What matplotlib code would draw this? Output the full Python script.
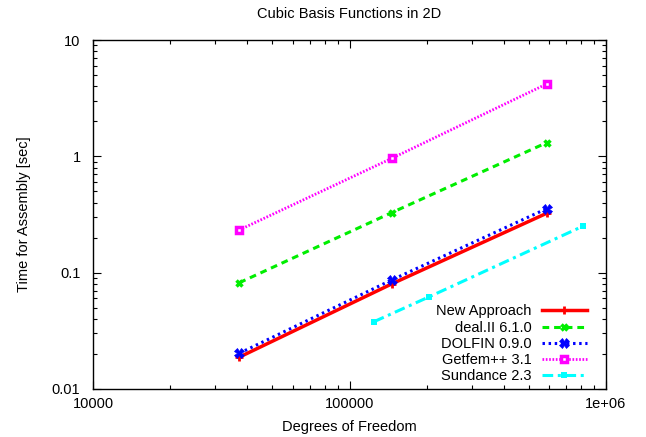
import matplotlib
matplotlib.use("Agg")
import matplotlib.pyplot as plt
from matplotlib.ticker import LogLocator, NullFormatter, FixedLocator, FixedFormatter

plt.rcParams['font.family'] = ['Liberation Sans', 'DejaVu Sans']

# data (degrees of freedom vs assembly time)
dofs = [37200, 146000, 587000]
new_approach = [0.0188, 0.080, 0.324]
dealii = [0.082, 0.328, 1.31]
dolfin = [0.0203, 0.0865, 0.355]
getfem = [0.233, 0.96, 4.19]
sundance_dofs = [124600, 204700, 816000]
sundance = [0.0379, 0.0621, 0.252]

labels = ["New Approach", "deal.II 6.1.0", "DOLFIN 0.9.0", "Getfem++ 3.1", "Sundance 2.3"]

fig = plt.figure(figsize=(6.46, 4.37), dpi=100)
ax = fig.add_axes([93 / 646, 1 - 389 / 437, (606 - 93) / 646, (389 - 40) / 437])

ax.plot(dofs, new_approach, color='#ff0000', lw=2.5, marker='+', ms=6, mew=2,
        label=labels[0])
ax.plot(dofs, dealii, color='#00ee00', lw=2.2, ls=(0, (2.2, 1.6)), marker='x',
        ms=5, mew=2.5, label=labels[1])
ax.plot(dofs, dolfin, color='#0000ff', lw=2.2, ls=(0, (0.8, 1.2)), marker='X',
        ms=6.5, mew=0.5, label=labels[2])
ax.plot(dofs, getfem, color='#ff00ff', lw=2.0, ls=(0, (0.6, 0.6)), marker='s',
        ms=3.8, mfc='white', mew=2.5, label=labels[3])
ax.plot(sundance_dofs, sundance, color='#00ffff', lw=2.2,
        ls=(0, (3.5, 1.5, 1, 1.5)), marker='s', ms=4.8, mew=0, label=labels[4])

ax.set_xscale('log')
ax.set_yscale('log')
ax.set_xlim(1e4, 1e6)
ax.set_ylim(0.01, 10)

ax.xaxis.set_major_locator(FixedLocator([1e4, 1e5, 1e6]))
ax.xaxis.set_major_formatter(FixedFormatter(["10000", "100000", "1e+06"]))
ax.yaxis.set_major_locator(FixedLocator([0.01, 0.1, 1, 10]))
ax.yaxis.set_major_formatter(FixedFormatter(["0.01", "0.1", "1", "10"]))
ax.xaxis.set_minor_locator(LogLocator(base=10, subs=range(2, 10)))
ax.yaxis.set_minor_locator(LogLocator(base=10, subs=range(2, 10)))
ax.xaxis.set_minor_formatter(NullFormatter())
ax.yaxis.set_minor_formatter(NullFormatter())
ax.tick_params(which='both', direction='in', top=True, right=True,
               labelsize=10.5, width=0.8, pad=6)
ax.tick_params(axis='y', which='major', pad=9)
ax.tick_params(which='major', length=6)
ax.tick_params(which='minor', length=3)
for s in ax.spines.values():
    s.set_linewidth(1.0)

ax.set_xlabel("Degrees of Freedom", fontsize=10.5, labelpad=6)
ax.set_ylabel("Time for Assembly [sec]", fontsize=10.5, labelpad=15)
ax.set_title("Cubic Basis Functions in 2D", fontsize=10.5, pad=16)

leg = ax.legend(loc='lower right', bbox_to_anchor=(0.974, 0.0), frameon=False,
                markerfirst=False, fontsize=10.5, handlelength=3.1,
                labelspacing=0.15, handletextpad=0.7, borderaxespad=0.0,
                numpoints=1)
# right-align the legend rows like gnuplot does
for col in leg._legend_handle_box.get_children():
    col.align = 'right'

fig.savefig("out.png", dpi=100)
